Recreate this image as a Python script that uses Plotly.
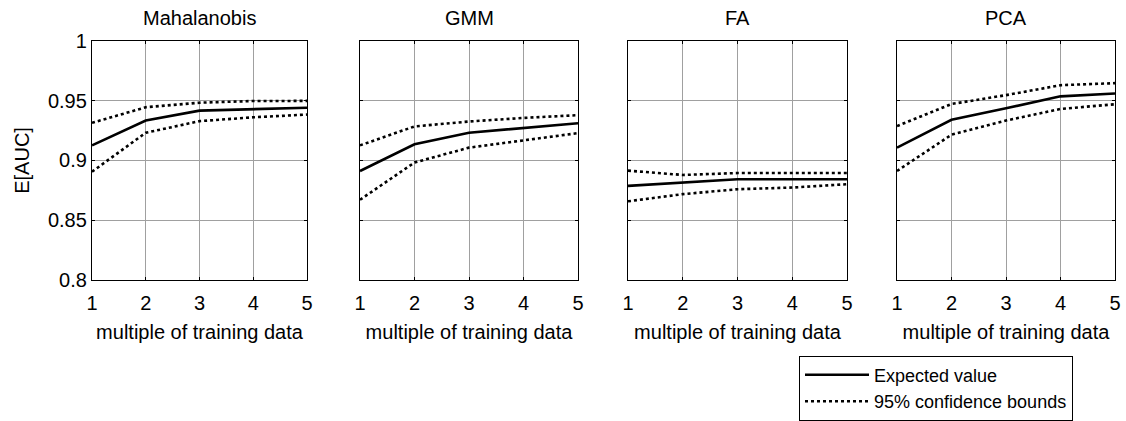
import plotly.graph_objects as go

# Multiples of training data used for each estimate
multiples = [1, 2, 3, 4, 5]

methods = ["Mahalanobis", "GMM", "FA", "PCA"]

# Expected AUC per method
expected_mahalanobis = [0.9126, 0.9333, 0.9416, 0.9425, 0.9440]
expected_gmm = [0.8912, 0.9135, 0.9231, 0.9270, 0.9311]
expected_fa = [0.8788, 0.8815, 0.8843, 0.8843, 0.8843]
expected_pca = [0.9107, 0.9339, 0.9435, 0.9535, 0.9559]

# Upper 95% confidence bound per method
upper_mahalanobis = [0.9314, 0.9444, 0.9482, 0.9496, 0.9497]
upper_gmm = [0.9126, 0.9284, 0.9325, 0.9355, 0.9378]
upper_fa = [0.8915, 0.8879, 0.8895, 0.8895, 0.8895]
upper_pca = [0.9287, 0.9471, 0.9545, 0.9628, 0.9645]

# Lower 95% confidence bound per method
lower_mahalanobis = [0.8906, 0.9231, 0.9328, 0.9360, 0.9383]
lower_gmm = [0.8672, 0.8983, 0.9107, 0.9168, 0.9228]
lower_fa = [0.8659, 0.8719, 0.8760, 0.8774, 0.8802]
lower_pca = [0.8912, 0.9215, 0.9333, 0.9430, 0.9469]

y_tick_values = [0.8, 0.85, 0.9, 0.95, 1.0]
y_tick_labels = ["0.8", "0.85", "0.9", "0.95", "1"]
x_tick_labels = ["1", "2", "3", "4", "5"]

expected = [expected_mahalanobis, expected_gmm, expected_fa, expected_pca]
upper = [upper_mahalanobis, upper_gmm, upper_fa, upper_pca]
lower = [lower_mahalanobis, lower_gmm, lower_fa, lower_pca]

W, H = 1126, 421
FONT = "Liberation Sans, Arial, sans-serif"
FS = 20

# Panel placement in pixels (left, right), shared top/bottom
panel_px = [(92, 307), (360, 578), (628, 847), (897, 1115)]
top_px, bottom_px = 41, 283
y_dom = [(H - bottom_px) / H, (H - top_px) / H]

fig = go.Figure()

for i, name in enumerate(methods):
    n = "" if i == 0 else str(i + 1)
    xa, ya = "x" + n, "y" + n
    fig.add_trace(go.Scatter(
        x=multiples, y=expected[i], mode="lines", xaxis=xa, yaxis=ya,
        line=dict(color="black", width=2.6), name="Expected value",
        legendgroup="exp", showlegend=(i == 0)))
    fig.add_trace(go.Scatter(
        x=multiples, y=upper[i], mode="lines", xaxis=xa, yaxis=ya,
        line=dict(color="black", width=2.6, dash="dot"),
        name="95% confidence bounds", legendgroup="ci",
        showlegend=(i == 0)))
    fig.add_trace(go.Scatter(
        x=multiples, y=lower[i], mode="lines", xaxis=xa, yaxis=ya,
        line=dict(color="black", width=2.6, dash="dot"),
        name="95% confidence bounds", legendgroup="ci", showlegend=False))

    l, r = panel_px[i]
    axis_common = dict(
        showline=True, linecolor="black", linewidth=1.3, mirror="allticks",
        ticks="inside", ticklen=3, tickcolor="black",
        showgrid=True, gridcolor="#a0a0a0", gridwidth=1,
        zeroline=False, automargin=False,
        tickfont=dict(family=FONT, size=FS, color="black"),
    )
    fig.update_layout(**{
        ("xaxis" + n): dict(
            domain=[l / W, r / W], anchor=ya, range=[1, 5],
            tickvals=multiples, ticktext=x_tick_labels, ticklabelstandoff=5,
            title=dict(text="multiple of training data", standoff=11,
                       font=dict(family=FONT, size=FS, color="black")),
            **axis_common),
        ("yaxis" + n): dict(
            domain=list(y_dom), anchor=xa, range=[0.8, 1.0],
            tickvals=y_tick_values, ticktext=y_tick_labels,
            showticklabels=(i == 0),
            title=dict(text="E[AUC]" if i == 0 else "", standoff=12,
                       font=dict(family=FONT, size=FS, color="black")),
            **axis_common),
    })
    fig.add_annotation(
        text=name, xref="paper", yref="paper",
        x=(l + r) / 2 / W, y=(H - 18) / H, xanchor="center", yanchor="middle",
        showarrow=False, font=dict(family=FONT, size=FS, color="black"))

fig.update_layout(
    width=W, height=H,
    margin=dict(l=0, r=0, t=0, b=0),
    paper_bgcolor="white", plot_bgcolor="white",
    font=dict(family=FONT, size=FS, color="black"),
    legend=dict(
        x=799 / W, y=(H - 359) / H, xanchor="left", yanchor="top",
        bordercolor="black", borderwidth=1, bgcolor="white",
        font=dict(family=FONT, size=18, color="black"),
        traceorder="grouped", tracegroupgap=0, itemwidth=64,
    ),
)

fig.write_html("out.html")
